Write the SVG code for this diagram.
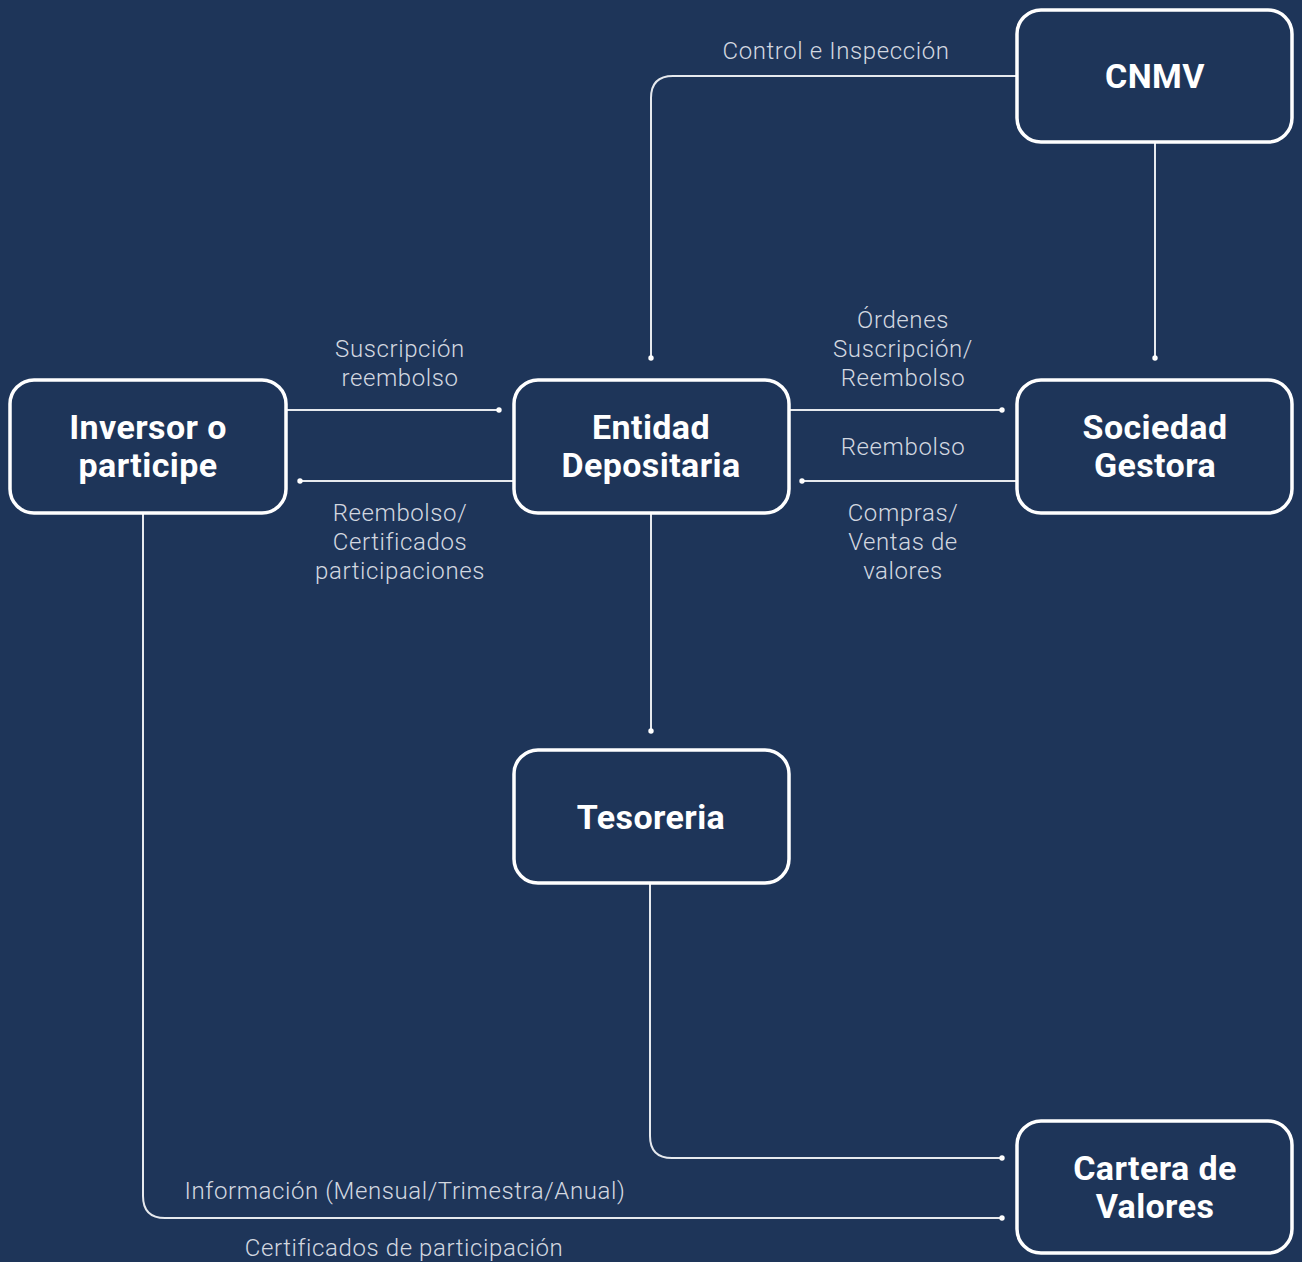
<svg xmlns="http://www.w3.org/2000/svg" width="1302" height="1262" viewBox="0 0 1302 1262">
<defs>
<style>
.bg{fill:#1e3559}
.node rect{fill:#1e3559;stroke:#ffffff;stroke-width:3.5}
.nt{font-family:Roboto,"Liberation Sans",sans-serif;font-weight:700;font-size:34px;letter-spacing:0.4px;fill:#ffffff;text-anchor:middle}
.lb{font-family:Roboto,"Liberation Sans",sans-serif;font-weight:300;font-size:24px;letter-spacing:0.6px;fill:#d3d8e0;text-anchor:middle}
.conn path{fill:none;stroke:#e6e9ee;stroke-width:2}
</style>
<marker id="dot" viewBox="0 0 6 6" refX="3" refY="3" markerWidth="6" markerHeight="6" markerUnits="userSpaceOnUse">
<circle cx="3" cy="3" r="2.7" fill="#ffffff"/>
</marker>
</defs>
<rect class="bg" x="0" y="0" width="1302" height="1262"/>
<g id="connectors" class="conn">
<path d="M1017 76 H673 Q651 76 651 98 V358" marker-end="url(#dot)"/>
<path d="M1155 142 V358" marker-end="url(#dot)"/>
<path d="M286 410 H499" marker-end="url(#dot)"/>
<path d="M514 481 H300" marker-end="url(#dot)"/>
<path d="M789 410 H1002" marker-end="url(#dot)"/>
<path d="M1017 481 H802" marker-end="url(#dot)"/>
<path d="M651 513 V731" marker-end="url(#dot)"/>
<path d="M650 883 V1136 Q650 1158 672 1158 H1002" marker-end="url(#dot)"/>
<path d="M143 513 V1196 Q143 1218 165 1218 H1002" marker-end="url(#dot)"/>
</g>
<g id="labels">
<text class="lb" x="836" y="59">Control e Inspección</text>
<text class="lb" x="400" y="357">Suscripción</text>
<text class="lb" x="400" y="386">reembolso</text>
<text class="lb" x="903" y="328">Órdenes</text>
<text class="lb" x="903" y="357">Suscripción/</text>
<text class="lb" x="903" y="386">Reembolso</text>
<text class="lb" x="903" y="455">Reembolso</text>
<text class="lb" x="400" y="521">Reembolso/</text>
<text class="lb" x="400" y="550">Certificados</text>
<text class="lb" x="400" y="579">participaciones</text>
<text class="lb" x="903" y="521">Compras/</text>
<text class="lb" x="903" y="550">Ventas de</text>
<text class="lb" x="903" y="579">valores</text>
<text class="lb" x="405" y="1199">Información (Mensual/Trimestra/Anual)</text>
<text class="lb" x="404" y="1256">Certificados de participación</text>
</g>
<g id="cnmv" class="node">
<rect x="1017" y="10" width="275" height="132" rx="24"/>
<text class="nt" x="1155" y="88">CNMV</text>
</g>
<g id="inversor" class="node">
<rect x="10" y="380" width="276" height="133" rx="24"/>
<text class="nt" x="148" y="439">Inversor o</text>
<text class="nt" x="148" y="477">participe</text>
</g>
<g id="entidad" class="node">
<rect x="514" y="380" width="275" height="133" rx="24"/>
<text class="nt" x="651" y="439">Entidad</text>
<text class="nt" x="651" y="477">Depositaria</text>
</g>
<g id="sociedad" class="node">
<rect x="1017" y="380" width="275" height="133" rx="24"/>
<text class="nt" x="1155" y="439">Sociedad</text>
<text class="nt" x="1155" y="477">Gestora</text>
</g>
<g id="tesoreria" class="node">
<rect x="514" y="750" width="275" height="133" rx="24"/>
<text class="nt" x="651" y="829">Tesoreria</text>
</g>
<g id="cartera" class="node">
<rect x="1017" y="1121" width="275" height="132" rx="24"/>
<text class="nt" x="1155" y="1180">Cartera de</text>
<text class="nt" x="1155" y="1218">Valores</text>
</g>
</svg>
